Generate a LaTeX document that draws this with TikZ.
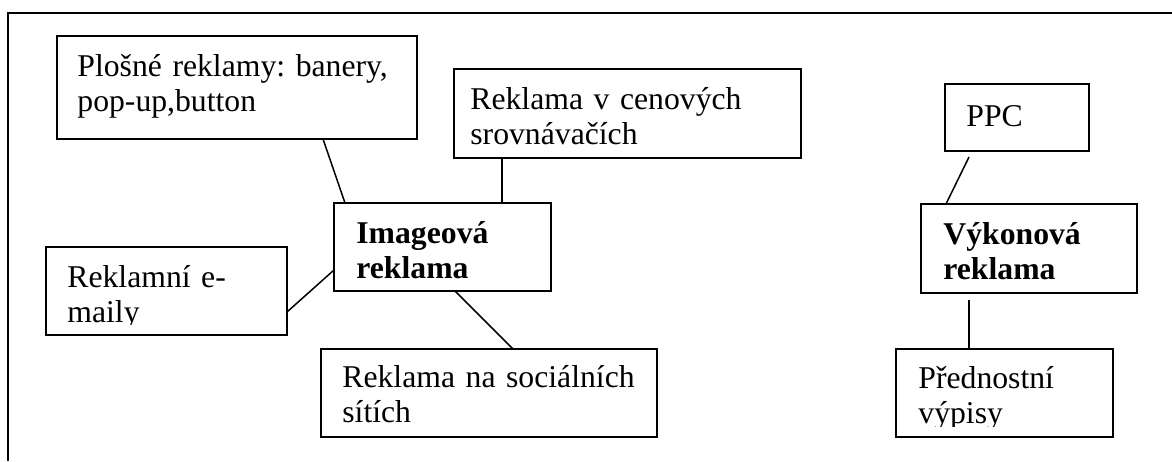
\documentclass[tikz,border=0pt]{standalone}
\usepackage{fontspec}
\setmainfont{Liberation Serif}
\frenchspacing
\begin{document}
\begin{tikzpicture}[x=0.5pt,y=-0.5pt,
    box/.style={draw, line width=1pt, anchor=north west, inner sep=0pt, outer sep=0pt},
    txt/.style={anchor=base west, inner sep=0pt, text width=170pt, align=left,
      font=\fontsize{15.85}{17.9}\selectfont},
    link/.style={line width=0.75pt}]
  \useasboundingbox (0,0) rectangle (1172,461);
  % frame
  \draw[line width=1pt] (8,461) -- (8,12.5) -- (1172,12.5);

  % boxes
  \node[box, minimum width=180pt, minimum height=51.5pt] (plo) at (57,36) {};
  \node[box, minimum width=173.5pt, minimum height=44.5pt] (cen) at (454,69) {};
  \node[box, minimum width=108.5pt, minimum height=44pt] (img) at (334,203) {};
  \node[box, minimum width=120.5pt, minimum height=44pt] (rek) at (46,247) {};
  \node[box, minimum width=168pt, minimum height=44pt] (soc) at (321,349) {};
  \node[box, minimum width=72pt, minimum height=33.5pt] (ppc) at (945,84) {};
  \node[box, minimum width=108pt, minimum height=44.5pt] (vyk) at (921,204) {};
  \node[box, minimum width=108.5pt, minimum height=44pt] (pred) at (896,349) {};

  % texts
  \node[txt] (plo-t) at ([shift={(20,40)}]plo.north west) {Plošné reklamy: banery,\\pop-up,button};
  \node[txt] (cen-t) at ([shift={(16,40)}]cen.north west) {Reklama v cenových\\srovnávačích};
  \node[txt, font=\fontsize{15.85}{17.9}\selectfont\bfseries] (img-t) at ([shift={(22,40)}]img.north west) {Imageová\\reklama};
  \begin{scope}
    \clip (rek.north west) rectangle ([shift={(0,-11)}]rek.south east);
    \node[txt] (rek-t) at ([shift={(21,40)}]rek.north west) {Reklamní e-\\maily};
  \end{scope}
  \node[txt] (soc-t) at ([shift={(21,38)}]soc.north west) {Reklama na sociálních\\sítích};
  \node[txt] (ppc-t) at ([shift={(21,42)}]ppc.north west) {PPC};
  \node[txt, font=\fontsize{15.85}{17.9}\selectfont\bfseries] (vyk-t) at ([shift={(22,40)}]vyk.north west) {Výkonová\\reklama};
  \begin{scope}
    \clip (pred.north west) rectangle ([shift={(0,-11)}]pred.south east);
    \node[txt] (pred-t) at ([shift={(22,39)}]pred.north west) {Přednostní\\výpisy};
  \end{scope}

  % links
  \draw[link] ([shift={(266,0)}]plo.south west) -- ([shift={(11,0)}]img.north west);
  \draw[link] ([shift={(48,0)}]cen.south west) -- ([shift={(168,0)}]img.north west);
  \draw[link] ([shift={(0,65)}]rek.north east) -- ([shift={(0,67)}]img.north west);
  \draw[link] ([shift={(121,0)}]img.south west) -- ([shift={(192,0)}]soc.north west);
  \draw[link] ([shift={(24,6)}]ppc.south west) -- ([shift={(25,0)}]vyk.north west);
  \draw[link] ([shift={(48,7)}]vyk.south west) -- ([shift={(73,0)}]pred.north west);
\end{tikzpicture}
\end{document}
